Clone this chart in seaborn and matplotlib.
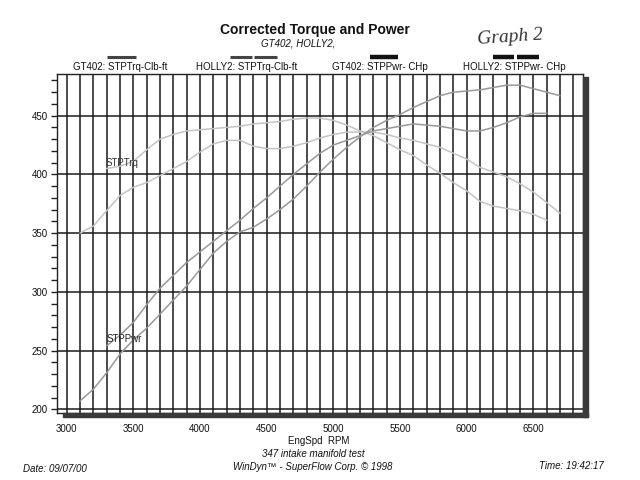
import matplotlib
matplotlib.use("Agg")
import matplotlib.pyplot as plt
from matplotlib.patches import Rectangle
from matplotlib.lines import Line2D
from matplotlib.ticker import MultipleLocator
import seaborn as sns
import pandas as pd

# ---- data ----
rpm_gt = [3100, 3200, 3300, 3400, 3500, 3600, 3700, 3800, 3900, 4000,
          4100, 4200, 4300, 4400, 4500, 4600, 4700, 4800, 4900, 5000,
          5100, 5200, 5300, 5400, 5500, 5600, 5700, 5800, 5900, 6000,
          6100, 6200, 6300, 6400, 6500, 6600, 6700]
trq_gt = [350, 356, 369, 382, 389, 393, 399, 405, 411, 419,
          426, 429, 429, 424, 422, 422, 424, 427, 431, 434,
          436, 436, 436, 434, 431, 429, 426, 423, 418, 413,
          406, 402, 398, 392, 385, 376, 367]
pwr_gt = [207, 217, 231, 247, 259, 269, 281, 293, 305, 319,
          333, 343, 351, 355, 362, 370, 379, 390, 402, 413,
          423, 432, 440, 446, 451, 457, 462, 467, 470, 471,
          472, 474, 476, 476, 473, 470, 467]

rpm_ho = [3300, 3400, 3500, 3600, 3700, 3800, 3900, 4000, 4100, 4200,
          4300, 4400, 4500, 4600, 4700, 4800, 4900, 5000, 5100, 5200,
          5300, 5400, 5500, 5600, 5700, 5800, 5900, 6000, 6100, 6200,
          6300, 6400, 6500, 6600]
trq_ho = [405, 407, 411, 421, 430, 434, 437, 438, 439, 440,
          441, 443, 444, 445, 447, 448, 448, 446, 442, 437,
          433, 427, 421, 416, 408, 401, 393, 386, 377, 373,
          371, 369, 366, 361]
pwr_ho = [254, 263, 274, 289, 303, 314, 325, 334, 343, 352,
          361, 371, 380, 390, 400, 409, 418, 425, 429, 433,
          437, 439, 441, 443, 442, 441, 439, 437, 437, 440,
          444, 449, 452, 452]

series_names = ["GT402: STPTrq-Clb-ft", "HOLLY2: STPTrq-Clb-ft",
                "GT402: STPPwr- CHp", "HOLLY2: STPPwr- CHp"]
x_ticks = [3000, 3500, 4000, 4500, 5000, 5500, 6000, 6500]
y_ticks = [200, 250, 300, 350, 400, 450]

frames = [
    pd.DataFrame({"rpm": rpm_gt, "val": trq_gt, "series": series_names[0]}),
    pd.DataFrame({"rpm": rpm_ho, "val": trq_ho, "series": series_names[1]}),
    pd.DataFrame({"rpm": rpm_gt, "val": pwr_gt, "series": series_names[2]}),
    pd.DataFrame({"rpm": rpm_ho, "val": pwr_ho, "series": series_names[3]}),
]
df = pd.concat(frames, ignore_index=True)

sns.set_theme(style="white")
plt.rcParams["font.family"] = ["Liberation Sans", "DejaVu Sans"]

fig = plt.figure(figsize=(6.4, 4.8), dpi=100)
ax = fig.add_axes([57.3 / 640, 1 - 413 / 480, (583 - 57.3) / 640, (413 - 74) / 480])

palette = {series_names[0]: "#c4c4c4", series_names[1]: "#c4c4c4",
           series_names[2]: "#999999", series_names[3]: "#999999"}
sns.lineplot(data=df, x="rpm", y="val", hue="series", palette=palette,
             linewidth=1.1, legend=False, ax=ax, zorder=3)

ax.set_xlim(2930, 6872)
ax.set_ylim(196.8, 485.5)
ax.set_xticks(x_ticks)
ax.set_xticklabels([str(t) for t in x_ticks])
ax.xaxis.set_minor_locator(MultipleLocator(100))
ax.set_yticks(y_ticks)
ax.yaxis.set_minor_locator(MultipleLocator(10))
ax.grid(True, which="major", axis="y", color="#1a1a1a", linewidth=1.1, zorder=1)
ax.grid(True, which="both", axis="x", color="#1a1a1a", linewidth=1.1, zorder=1)
ax.set_axisbelow(True)
ax.tick_params(axis="x", which="both", length=0, pad=8, labelsize=7, colors="#111111")
ax.tick_params(axis="y", which="both", direction="out", length=4, width=1,
               color="#222222", left=True, pad=3, labelsize=7, labelcolor="#111111")
ax.set_xlabel("EngSpd  RPM", fontsize=7, color="#111111")
ax.xaxis.set_label_coords(0.498, (413 - 435.5) / 339)
ax.set_ylabel("")
for s in ax.spines.values():
    s.set_color("#222222")
    s.set_linewidth(1.0)

# curve labels
ax.text(3290, 410, "STPTrq", fontsize=7, color="#333333", va="center", ha="left", zorder=4)
ax.text(3300, 260, "STPPwr", fontsize=7, color="#222222", va="center", ha="left", zorder=4)

# drop shadow of the frame
fig.patches.append(Rectangle((583 / 640, 1 - 417 / 480), 5 / 640, 340 / 480,
                             transform=fig.transFigure, color="#3a3a3a", zorder=0))
fig.patches.append(Rectangle((63 / 640, 1 - 417 / 480), 525 / 640, 4 / 480,
                             transform=fig.transFigure, color="#3a3a3a", zorder=0))

# titles
fig.text(315 / 640, 1 - 30 / 480, "Corrected Torque and Power", fontsize=10,
         fontweight="bold", ha="center", va="center", color="#111111")
fig.text(298 / 640, 1 - 43 / 480, "GT402, HOLLY2,", fontsize=7, fontstyle="italic",
         ha="center", va="center", color="#111111")
fig.text(510 / 640, 1 - 37 / 480, "Graph 2", fontsize=14, fontstyle="italic",
         family=["Liberation Serif", "DejaVu Serif"], ha="center", va="center",
         color="#333333", rotation=4)

# legend row above the plot
label_x = [120, 247, 380, 514]
for name, lx in zip(series_names, label_x):
    fig.text(lx / 640, 1 - 66.7 / 480, name, fontsize=7, ha="center", va="center",
             color="#111111")
bar_y = 1 - 56.7 / 480
legend_bars = [
    [(107, 136)],
    [(230, 252), (254, 277)],
    [(370, 398)],
    [(493, 514), (517, 539)],
]
bar_style = [("#444444", 2.2), ("#444444", 2.2), ("#111111", 3.2), ("#111111", 3.2)]
for segs, (c, lw) in zip(legend_bars, bar_style):
    for a, b in segs:
        fig.add_artist(Line2D([a / 640, b / 640], [bar_y, bar_y], transform=fig.transFigure,
                              color=c, linewidth=lw, solid_capstyle="butt"))

# footer
fig.text(313 / 640, 1 - 454 / 480, "347 intake manifold test", fontsize=7,
         fontstyle="italic", ha="center", va="center", color="#111111")
fig.text(312.5 / 640, 1 - 467.5 / 480, "WinDyn\u2122 - SuperFlow Corp. \u00a9 1998", fontsize=7,
         fontstyle="italic", ha="center", va="center", color="#111111")
fig.text(22.7 / 640, 1 - 468.8 / 480, "Date: 09/07/00", fontsize=7, fontstyle="italic",
         ha="left", va="center", color="#111111")
fig.text(539 / 640, 1 - 466 / 480, "Time: 19:42:17", fontsize=7, fontstyle="italic",
         ha="left", va="center", color="#111111")

fig.savefig("out.png", dpi=100)
